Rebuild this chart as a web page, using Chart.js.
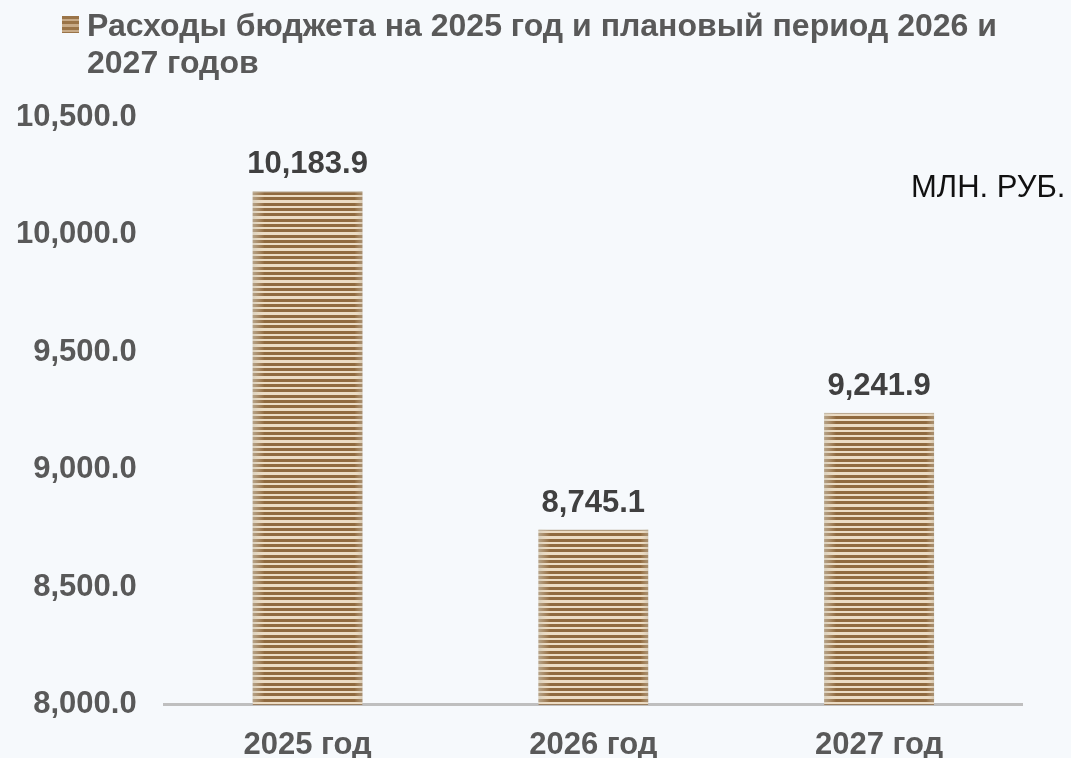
<!DOCTYPE html>
<html>
<head>
<meta charset="utf-8">
<script src="https://cdn.jsdelivr.net/npm/chart.js@4.4.1/dist/chart.umd.min.js"></script>
<style>
  html, body { margin: 0; padding: 0; background: #f6f9fc; }
  #wrap { position: relative; width: 1071px; height: 758px; }
</style>
</head>
<body>
<div id="wrap"><canvas id="chart"></canvas></div>
<script>
// data
const categories = ['2025 год', '2026 год', '2027 год'];
const expenses = [10183.9, 8745.1, 9241.9];
const yTicks = [8000, 8500, 9000, 9500, 10000, 10500];
const seriesLabel = ['Расходы бюджета на 2025 год и плановый период 2026 и', '2027 годов'];
const unitLabel = 'МЛН. РУБ.';

const FONT = "'Liberation Sans', Arial, sans-serif";
Chart.defaults.font.family = FONT;

const fmt = v => v.toLocaleString('en-US', { minimumFractionDigits: 1, maximumFractionDigits: 1 });

// striped fill like the original bars
function stripes(light, dark) {
  const c = document.createElement('canvas');
  c.width = 8; c.height = 16;
  const g = c.getContext('2d');
  g.fillStyle = light;
  g.fillRect(0, 0, 8, 16);
  g.fillStyle = dark;
  [0, 5, 11].forEach(y => g.fillRect(0, y, 8, 3));
  return g.createPattern(c, 'repeat');
}
const pattern = stripes('#ecdcc4', '#906a3f');
const swatch = stripes('#c8ab88', '#9a7448');

// soft shading on bar edges + value labels above the bars
const valueLabels = {
  id: 'valueLabels',
  afterDatasetsDraw(chart) {
    const ctx = chart.ctx;
    const bottom = chart.chartArea.bottom - 2;
    ctx.save();
    chart.getDatasetMeta(0).data.forEach(bar => {
      const l = bar.x - bar.width / 2, r = bar.x + bar.width / 2, h = bottom - bar.y;
      let gr = ctx.createLinearGradient(l, 0, l + 12, 0);
      gr.addColorStop(0, 'rgba(205,200,185,0.6)');
      gr.addColorStop(1, 'rgba(236,220,196,0)');
      ctx.fillStyle = gr;
      ctx.fillRect(l, bar.y, 12, h);
      gr = ctx.createLinearGradient(r - 8, 0, r, 0);
      gr.addColorStop(0, 'rgba(236,220,196,0)');
      gr.addColorStop(1, 'rgba(190,180,160,0.5)');
      ctx.fillStyle = gr;
      ctx.fillRect(r - 8, bar.y, 8, h);
    });
    ctx.font = 'bold 31px ' + FONT;
    ctx.fillStyle = '#404040';
    ctx.textAlign = 'center';
    ctx.textBaseline = 'alphabetic';
    chart.getDatasetMeta(0).data.forEach((bar, i) => {
      ctx.fillText(fmt(expenses[i]), bar.x, bar.y - 18);
    });
    ctx.restore();
  }
};

// legend (wraps on two lines) and unit caption
const header = {
  id: 'header',
  afterDraw(chart) {
    const ctx = chart.ctx;
    ctx.save();
    ctx.fillStyle = swatch;
    ctx.fillRect(62, 16, 17, 17);
    ctx.font = 'bold 32px ' + FONT;
    ctx.fillStyle = '#595959';
    ctx.textAlign = 'left';
    ctx.textBaseline = 'alphabetic';
    seriesLabel.forEach((line, i) => ctx.fillText(line, 87, 36 + i * 37));
    ctx.font = '31px ' + FONT;
    ctx.fillStyle = '#111111';
    ctx.fillText(unitLabel, 911, 197);
    ctx.restore();
  }
};

new Chart(document.getElementById('chart'), {
  type: 'bar',
  data: {
    labels: categories,
    datasets: [{
      label: seriesLabel.join(' '),
      data: expenses,
      backgroundColor: pattern,
      borderColor: '#b9ab94',
      borderWidth: { top: 1, left: 0, right: 0, bottom: 0 },
      borderSkipped: false,
      categoryPercentage: 1,
      barPercentage: 0.385
    }]
  },
  options: {
    responsive: true,
    maintainAspectRatio: false,
    animation: false,
    layout: { padding: { left: -12, right: 49, top: 117, bottom: -28 } },
    plugins: {
      legend: { display: false },
      tooltip: { enabled: false }
    },
    scales: {
      x: {
        grid: { display: false, drawTicks: false },
        border: { color: '#bfbfbf', width: 3 },
        ticks: { color: '#595959', font: { size: 31, weight: 'bold' }, padding: 22 }
      },
      y: {
        min: 8000,
        max: 10500,
        grid: { display: false, drawTicks: false },
        border: { display: false },
        afterBuildTicks: s => { s.ticks = yTicks.map(v => ({ value: v })); },
        ticks: {
          color: '#595959',
          font: { size: 31, weight: 'bold' },
          padding: 28,
          callback: v => fmt(v)
        }
      }
    }
  },
  plugins: [valueLabels, header]
});
</script>
</body>
</html>
